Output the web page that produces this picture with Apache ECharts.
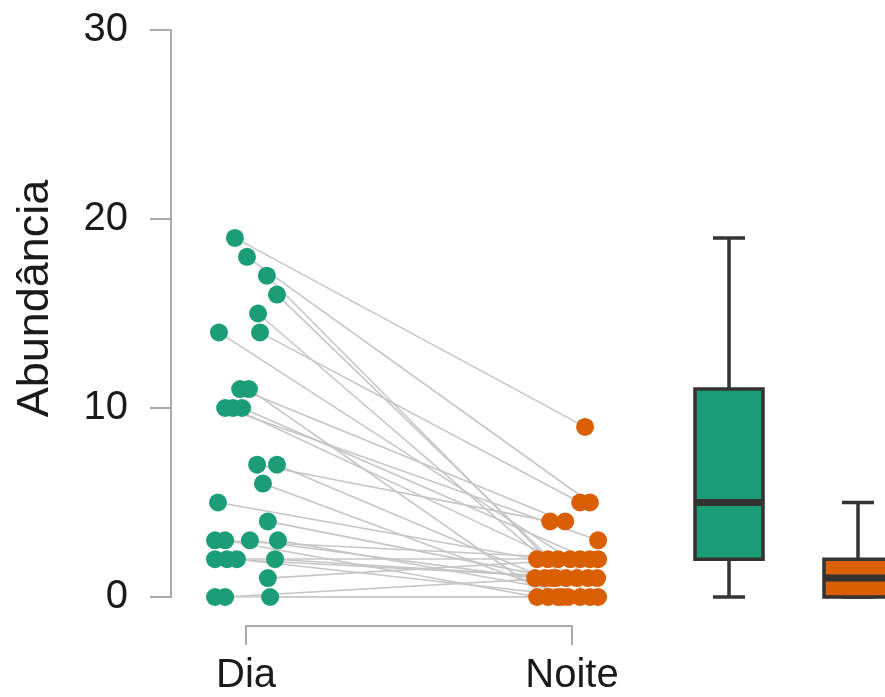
<!DOCTYPE html>
<html>
<head>
<meta charset="utf-8">
<script src="https://cdn.jsdelivr.net/npm/echarts@6/dist/echarts.min.js"></script>
<style>
  html, body { margin: 0; padding: 0; background: #fff; }
  #chart { width: 885px; height: 697px; }
</style>
</head>
<body>
<div id="chart"></div>
<script>
// grupos
const groups = ["Dia", "Noite"];

// abundancia pareada (mesma ordem nos dois vetores)
const dayValues   = [19, 18, 17, 16, 15, 14, 14, 11, 11, 10, 10, 10, 7, 7, 6, 5, 4, 3, 3, 3, 3, 2, 2, 2, 2, 1, 0, 0, 0];
const nightValues = [9, 5, 2, 0, 1, 5, 2, 4, 0, 3, 1, 2, 4, 1, 0, 2, 1, 2, 0, 1, 0, 2, 1, 0, 1, 2, 0, 1, 0];

// jitter horizontal (unidades do eixo x)
const dayJitter   = [-0.034, 0.003, 0.064, 0.095, 0.037, 0.043, -0.083, -0.018, 0.009, -0.064, -0.040, -0.012, 0.034, 0.095, 0.052, -0.086, 0.067, -0.095, -0.064, 0.012, 0.098, -0.095, -0.058, -0.028, 0.089, 0.067, -0.095, -0.064, 0.074];
const nightJitter = [0.040, 0.055, -0.074, 0.055, -0.018, 0.025, -0.006, -0.021, -0.074, 0.080, 0.077, 0.055, -0.067, -0.083, -0.012, -0.107, -0.049, 0.080, -0.107, -0.113, 0.080, -0.043, 0.049, 0.025, 0.015, 0.025, -0.043, -0.061, -0.031];

// boxplot: [min, q1, mediana, q3, max]
const dayBox   = [0, 2, 5, 11, 19];
const nightBox = [0, 0, 1, 2, 5];

const yTicks = [0, 10, 20, 30];

const dayColor = "#1b9e77";
const nightColor = "#d95f02";
const font = "Liberation Sans, Arial, sans-serif";

let chart = echarts.init(document.getElementById("chart"));

let dayPoints = dayValues.map((v, i) => [1 + dayJitter[i], v]);
let nightPoints = nightValues.map((v, i) => [2 + nightJitter[i], v]);
let pairLines = dayValues.map((v, i) => ({ coords: [dayPoints[i], nightPoints[i]] }));

let boxData = [[0].concat(dayBox), [1].concat(nightBox)];
let boxColors = [dayColor, nightColor];

function renderBox(params, api) {
  let cat = api.value(0);
  let pMin = api.coord([cat, api.value(1)]);
  let pQ1 = api.coord([cat, api.value(2)]);
  let pMed = api.coord([cat, api.value(3)]);
  let pQ3 = api.coord([cat, api.value(4)]);
  let pMax = api.coord([cat, api.value(5)]);
  let x = pMed[0];
  let hw = 34, cw = 16;
  let stroke = { stroke: "#333", lineWidth: 3.5 };
  return {
    type: "group",
    children: [
      { type: "line", shape: { x1: x, y1: pMax[1], x2: x, y2: pQ3[1] }, style: stroke },
      { type: "line", shape: { x1: x, y1: pQ1[1], x2: x, y2: pMin[1] }, style: stroke },
      { type: "line", shape: { x1: x - cw, y1: pMax[1], x2: x + cw, y2: pMax[1] }, style: stroke },
      { type: "line", shape: { x1: x - cw, y1: pMin[1], x2: x + cw, y2: pMin[1] }, style: stroke },
      {
        type: "rect",
        shape: { x: x - hw, y: pQ3[1], width: hw * 2, height: pQ1[1] - pQ3[1] },
        style: { fill: boxColors[params.dataIndex], stroke: "#333", lineWidth: 3.5 }
      },
      { type: "line", shape: { x1: x - hw, y1: pMed[1], x2: x + hw, y2: pMed[1] }, style: { stroke: "#333", lineWidth: 7 } }
    ]
  };
}

let option = {
  animation: false,
  backgroundColor: "#fff",
  grid: [
    { left: 180.8, right: 247.8, top: 30, height: 567 },
    { left: 246, width: 326, top: 590, height: 36 },
    { left: 664.5, width: 220.5, top: 30, height: 567 }
  ],
  xAxis: [
    { type: "value", gridIndex: 0, min: 0.8, max: 2.2, show: false },
    {
      type: "category",
      gridIndex: 1,
      data: groups,
      boundaryGap: false,
      axisLine: { lineStyle: { color: "#aaa", width: 2 } },
      axisTick: { length: 19, lineStyle: { color: "#aaa", width: 2 } },
      axisLabel: { margin: 30, fontSize: 40, color: "#1a1a1a", fontFamily: font },
      splitLine: { show: false }
    },
    // boxes: Dia em 0, Noite em 1 (129 px por unidade)
    { type: "value", gridIndex: 2, min: -0.5, max: 1.2093, show: false }
  ],
  yAxis: [
    {
      type: "value",
      gridIndex: 0,
      min: 0,
      max: 30,
      interval: 10,
      offset: 9.8,
      name: "Abundância",
      nameLocation: "middle",
      nameGap: 113,
      nameTextStyle: { fontSize: 45, color: "#1a1a1a", fontFamily: font, padding: [0, 0, 0, 30] },
      axisLine: { show: true, lineStyle: { color: "#aaa", width: 2 } },
      axisTick: { show: true, length: 21, lineStyle: { color: "#aaa", width: 2 } },
      axisLabel: { margin: 43, fontSize: 40, color: "#1a1a1a", fontFamily: font,
        formatter: v => yTicks.indexOf(v) >= 0 ? String(v) : "" },
      splitLine: { show: false }
    },
    { type: "value", gridIndex: 1, show: false },
    { type: "value", gridIndex: 2, min: 0, max: 30, show: false }
  ],
  series: [
    {
      type: "lines",
      coordinateSystem: "cartesian2d",
      xAxisIndex: 0,
      yAxisIndex: 0,
      data: pairLines,
      lineStyle: { color: "#c6c6c6", width: 1.6, opacity: 1 },
      z: 1
    },
    {
      name: "Dia",
      type: "scatter",
      xAxisIndex: 0,
      yAxisIndex: 0,
      data: dayPoints,
      symbolSize: 18,
      itemStyle: { color: dayColor, opacity: 1 },
      z: 3
    },
    {
      name: "Noite",
      type: "scatter",
      xAxisIndex: 0,
      yAxisIndex: 0,
      data: nightPoints,
      symbolSize: 18,
      itemStyle: { color: nightColor, opacity: 1 },
      z: 3
    },
    {
      type: "custom",
      xAxisIndex: 2,
      yAxisIndex: 2,
      data: boxData,
      renderItem: renderBox,
      encode: { x: 0, y: [1, 2, 3, 4, 5] },
      clip: false,
      z: 3
    }
  ]
};

chart.setOption(option);
</script>
</body>
</html>
